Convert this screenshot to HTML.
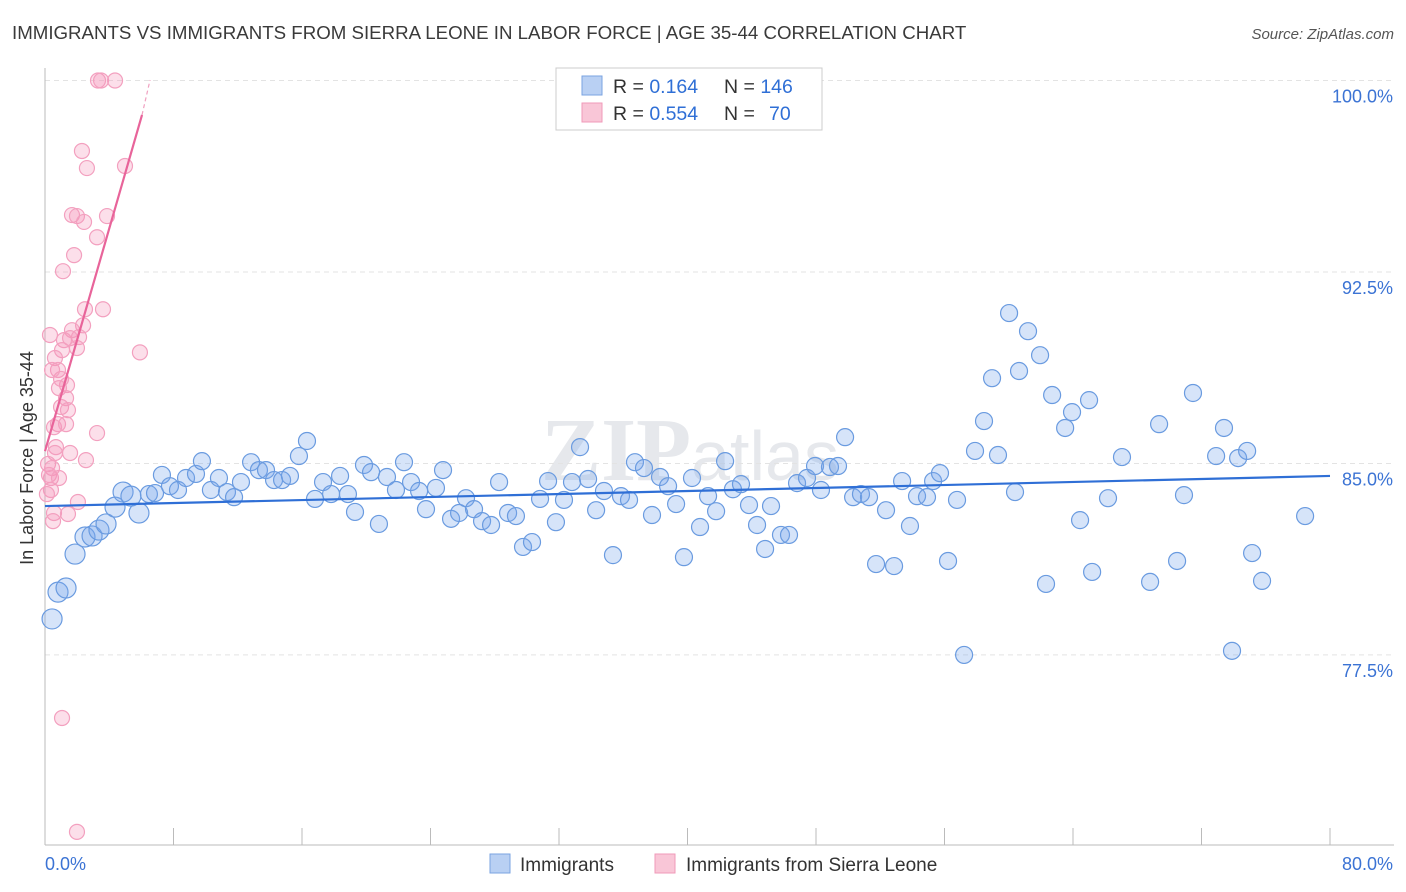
<!DOCTYPE html>
<html><head><meta charset="utf-8">
<style>
body{margin:0;background:#fff;font-family:"Liberation Sans",sans-serif;}
#wrap{position:relative;width:1406px;height:892px;overflow:hidden;}
</style></head>
<body>
<div id="wrap">
<svg id="svg" width="1406" height="892" xmlns="http://www.w3.org/2000/svg">
<text x="12" y="39" font-size="18.7" fill="#3a3a3a">IMMIGRANTS VS IMMIGRANTS FROM SIERRA LEONE IN LABOR FORCE | AGE 35-44 CORRELATION CHART</text>
<text x="1394" y="39" font-size="15" font-style="italic" fill="#555" text-anchor="end">Source: ZipAtlas.com</text>
<text x="33" y="458" font-size="18" fill="#333" text-anchor="middle" transform="rotate(-90 33 458)">In Labor Force | Age 35-44</text>
<text x="690" y="480" font-size="90" fill="#e6e8ec" text-anchor="middle" font-family="Liberation Serif,serif" font-weight="bold">ZIP<tspan font-family="Liberation Sans,sans-serif" font-weight="normal" font-size="70">atlas</tspan></text>
<g id="grid"></g>
<g id="axes"></g>
<g id="marks"></g>
<g>
<rect x="556" y="68" width="266" height="62" fill="#fff" stroke="#ccc"/>
<rect x="582" y="76" width="20" height="19" fill="#b9d0f3" stroke="#7aa3e0"/>
<rect x="582" y="103" width="20" height="19" fill="#f9c6d7" stroke="#f09ab9"/>
<text x="613" y="93" font-size="19.5" fill="#333">R = <tspan fill="#2f6fd6">0.164</tspan><tspan x="724">N = </tspan><tspan fill="#2f6fd6">146</tspan></text>
<text x="613" y="120" font-size="19.5" fill="#333">R = <tspan fill="#2f6fd6">0.554</tspan><tspan x="724">N = </tspan><tspan x="769" fill="#2f6fd6">70</tspan></text>
</g>
<g>
<rect x="490" y="854" width="20" height="19" fill="#b9d0f3" stroke="#7aa3e0"/>
<text x="520" y="871" font-size="19" fill="#333">Immigrants</text>
<rect x="655" y="854" width="20" height="19" fill="#f9c6d7" stroke="#f09ab9"/>
<text x="686" y="871" font-size="19" fill="#333">Immigrants from Sierra Leone</text>
</g>
</svg>
</div>
<script>
const yTicks=[100,92.5,85,77.5];
const yTickLabels=["100.0%","92.5%","85.0%","77.5%"];
const xTicks=[0,8,16,24,32,40,48,56,64,72,80];
const xEndLabels=["0.0%","80.0%"];
const blueX=[0.44,0.81,1.31,1.87,2.49,2.93,3.36,3.80,4.36,4.86,5.35,5.85,6.47,6.85,7.28,7.78,8.28,8.78,9.40,9.77,10.33,10.83,11.33,11.77,12.20,12.83,13.32,13.76,14.26,14.76,15.25,15.81,16.31,16.81,17.31,17.81,18.37,18.86,19.30,19.86,20.30,20.79,21.29,21.85,22.35,22.79,23.29,23.72,24.34,24.78,25.28,25.78,26.21,26.71,27.21,27.77,28.27,28.83,29.32,29.76,30.32,30.82,31.32,31.81,32.31,32.81,33.31,33.81,34.31,34.80,35.36,35.86,36.36,36.73,37.29,37.79,38.29,38.79,39.29,39.78,40.28,40.78,41.28,41.78,42.34,42.83,43.33,43.83,44.33,44.83,45.20,45.82,46.32,46.82,47.44,47.94,48.31,48.87,49.37,49.81,50.31,50.80,51.30,51.74,52.36,52.86,53.36,53.85,54.29,54.91,55.29,55.72,56.22,56.78,57.22,57.90,58.46,58.96,59.33,60.02,60.39,60.64,61.20,61.95,62.32,62.70,63.51,63.94,64.44,65.00,65.19,67.05,66.18,68.80,69.36,70.48,70.91,71.47,72.91,73.40,73.90,74.28,74.84,75.15,75.77,78.45];
const blueY=[78.91,79.96,80.12,81.45,82.12,82.16,82.39,82.63,83.29,83.88,83.72,83.06,83.80,83.84,84.55,84.11,83.96,84.43,84.59,85.09,83.96,84.43,83.88,83.68,84.27,85.05,84.74,84.74,84.35,84.35,84.51,85.29,85.88,83.61,84.27,83.80,84.51,83.80,83.10,84.94,84.66,82.63,84.47,83.96,85.05,84.27,83.92,83.21,84.04,84.74,82.83,83.06,83.64,83.21,82.74,82.59,84.27,83.06,82.94,81.73,81.92,83.61,84.31,82.70,83.57,84.27,85.64,84.39,83.17,83.92,81.41,83.72,83.57,85.05,84.82,82.98,84.47,84.11,83.41,81.33,84.43,82.51,83.72,83.13,85.09,83.99,84.19,83.37,82.59,81.65,83.33,82.20,82.20,84.23,84.43,84.90,83.96,84.86,84.90,86.03,83.68,83.80,83.68,81.06,83.17,80.98,84.31,82.55,83.72,83.68,84.31,84.62,81.18,83.57,77.50,85.49,86.66,88.34,85.33,90.89,83.88,88.62,90.18,89.24,80.28,87.68,86.39,87.01,82.78,87.48,80.75,85.25,83.64,80.36,86.54,81.18,83.76,87.76,85.29,86.39,77.66,85.21,85.49,81.49,80.40,82.94];
const pinkX=[3.30,3.49,4.36,2.30,2.61,4.98,1.68,1.99,2.43,3.86,3.24,1.81,1.12,2.49,3.61,2.37,5.91,1.68,1.18,2.12,1.56,1.99,1.06,0.62,0.81,1.37,1.00,0.87,1.31,1.00,1.43,0.81,0.56,1.31,3.24,0.68,0.62,1.56,2.55,0.19,0.44,0.25,0.37,0.87,0.37,0.12,2.05,0.56,1.43,0.50,1.06,1.99,0.31,0.44];
const pinkY=[100,100,100,97.24,96.57,96.65,94.73,94.69,94.46,94.69,93.86,93.16,92.53,91.04,91.04,90.41,89.35,90.22,89.83,89.95,89.91,89.52,89.44,89.13,88.66,88.07,88.31,87.95,87.56,87.21,87.09,86.54,86.42,86.54,86.19,85.64,85.41,85.41,85.13,84.98,84.82,84.55,84.43,84.43,83.96,83.80,83.49,83.06,83.02,82.74,75.03,70.57,90.03,88.66];
const blueTrend=[[0,83.33],[80,84.51]];
const pinkTrend=[[0,85.48],[6.04,98.65]];
const pinkTrendExt=[[6.04,98.65],[6.54,100.02]];

const NS="http://www.w3.org/2000/svg";
const X=v=>45+v*(1285/80);
const Y=v=>80.5+(100-v)*25.53;
function mk(tag,attrs,parent){const e=document.createElementNS(NS,tag);for(const k in attrs)e.setAttribute(k,attrs[k]);document.getElementById(parent).appendChild(e);return e;}

yTicks.forEach((t,i)=>{
 const l=mk('line',{x1:45,x2:1394,y1:Y(t),y2:Y(t),stroke:'#e3e3e3','stroke-dasharray':'5,4'},'grid');
 
 
 const tx=mk('text',{x:1393,y:Y(t)+22,'font-size':18,fill:'#3b73d4','text-anchor':'end'},'axes');
 tx.textContent=yTickLabels[i];
 
 
});
const ax=mk('line',{x1:45,x2:45,y1:68,y2:845,stroke:'#bbb'},'axes');


const bx=mk('line',{x1:45,x2:1394,y1:845,y2:845,stroke:'#bbb'},'axes');


xTicks.forEach(t=>{
 const l=mk('line',{x1:X(t),x2:X(t),y1:828,y2:845,stroke:'#bbb'},'axes');
 
 
});
const xl0=mk('text',{x:45,y:870,'font-size':18,fill:'#3b73d4'},'axes');
xl0.textContent=xEndLabels[0];


const xl1=mk('text',{x:1393,y:870,'font-size':18,fill:'#3b73d4','text-anchor':'end'},'axes');
xl1.textContent=xEndLabels[1];



blueX.forEach((v,i)=>{
 const c=mk('circle',{cx:X(v),cy:Y(blueY[i]),r:v<6?10:8.5,fill:'rgba(120,165,235,0.3)',stroke:'#6a9be0','stroke-width':1.2},'marks');
 
 
});
pinkX.forEach((v,i)=>{
 const c=mk('circle',{cx:X(v),cy:Y(pinkY[i]),r:7.5,fill:'rgba(245,150,185,0.3)',stroke:'#f3a0bf','stroke-width':1.2},'marks');
 
 
});
const bt=mk('line',{x1:X(blueTrend[0][0]),y1:Y(blueTrend[0][1]),x2:X(blueTrend[1][0]),y2:Y(blueTrend[1][1]),stroke:'#2f6fd6','stroke-width':2.2},'marks');


const pt=mk('line',{x1:X(pinkTrend[0][0]),y1:Y(pinkTrend[0][1]),x2:X(pinkTrend[1][0]),y2:Y(pinkTrend[1][1]),stroke:'#e8649a','stroke-width':2.2},'marks');


const pe=mk('line',{x1:X(pinkTrendExt[0][0]),y1:Y(pinkTrendExt[0][1]),x2:X(pinkTrendExt[1][0]),y2:Y(pinkTrendExt[1][1]),stroke:'#f0a0c0','stroke-width':1.2,'stroke-dasharray':'4,3'},'marks');


</script>
</body></html>
